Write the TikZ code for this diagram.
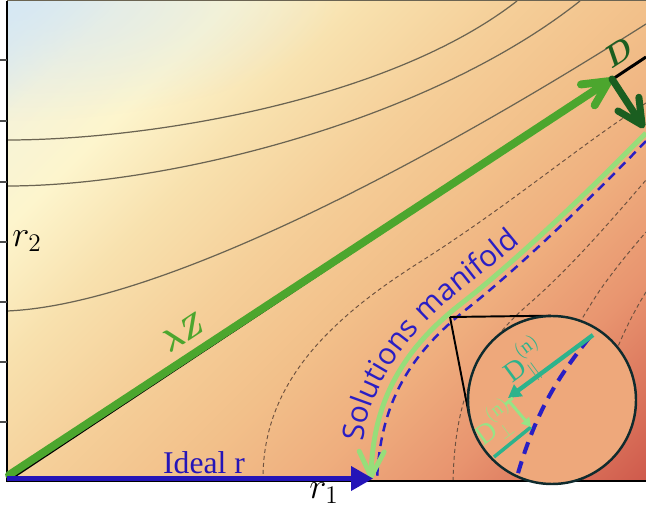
\documentclass[tikz,border=0pt]{standalone}
\usepackage{fontspec}
\setmainfont{Liberation Serif}
\newfontfamily\labelsans{Open Sans}
\usepackage{amsmath}
\usepackage{tikz}
\usetikzlibrary{arrows.meta, decorations.text, calc, fadings}

\definecolor{hmA}{HTML}{D6E8F4}
\definecolor{hmB}{HTML}{F6F3D8}
\definecolor{hmC}{HTML}{FDF5CD}
\definecolor{hmD}{HTML}{F8E1AE}
\definecolor{hmE}{HTML}{F5CF99}
\definecolor{hmF}{HTML}{F2C08A}
\definecolor{hmG}{HTML}{EFAE7E}
\definecolor{hmH}{HTML}{E8946F}
\definecolor{hmI}{HTML}{DB755C}
\definecolor{hmJ}{HTML}{CF5A4C}
\definecolor{lensfill}{HTML}{EEA87B}
\definecolor{contourgray}{HTML}{6B6452}
\definecolor{contourbrown}{HTML}{6E5240}
\definecolor{lzgreen}{HTML}{4CA62E}
\definecolor{dgreen}{HTML}{1B5E20}
\definecolor{mangreen}{HTML}{97DD7A}
\definecolor{manblue}{HTML}{2A1EC4}
\definecolor{idealblue}{HTML}{2414B8}
\definecolor{tealD}{HTML}{2DB38C}
\definecolor{perpgreen}{HTML}{96E486}
\definecolor{lensedge}{HTML}{0F2B2E}

\pgfdeclarehorizontalshading{heatmap}{100bp}{color(0bp)=(hmA); color(14.6bp)=(hmA);
  color(21.7bp)=(hmB); color(28.8bp)=(hmC); color(37.3bp)=(hmD); color(46.5bp)=(hmE);
  color(55.6bp)=(hmF); color(64.1bp)=(hmG); color(72.6bp)=(hmH); color(79.7bp)=(hmI);
  color(85.4bp)=(hmJ); color(100bp)=(hmJ)}
\tikzfading[name=topglow, inner color=transparent!20, outer color=transparent!100]

\tikzset{
  contour/.style={draw=contourgray, line width=0.7pt},
  dcontour/.style={draw=contourbrown, line width=0.55pt, dash pattern=on 2.3pt off 1.7pt},
  barb/.style={-{Straight Barb[length=5mm, width=5mm, round]}},
  lzarrow/.style={barb, draw=lzgreen, line width=4.5pt, line cap=round},
  darrow/.style={barb, draw=dgreen, line width=4pt, line cap=round},
  manifold/.style={barb, draw=mangreen, line width=2.8pt},
  mandash/.style={draw=manblue, line width=1.4pt, dash pattern=on 5pt off 3.5pt},
  idealarrow/.style={-{Triangle[length=4.4mm, width=4.8mm]}, draw=idealblue, fill=idealblue, line width=2.3pt},
  axisline/.style={draw=black, line width=0.9pt},
  tick/.style={draw=black!70, line width=0.6pt},
  biglabel/.style={font=\fontsize{18}{20}\selectfont},
  axislabel/.style={font=\fontsize{21}{24}\selectfont},
  dlabel/.style={rotate=36.5, font=\fontsize{16}{18}\selectfont},
}

\begin{document}
\begin{tikzpicture}[x=0.02cm, y=-0.02cm]
  \useasboundingbox (0,0) rectangle (646,513);
  % loss landscape
  \shade[shading=heatmap, shading angle=-45] (7,1) rectangle (646,481);
  \begin{scope}
    \clip (7,1) rectangle (646,481);
    \fill[hmA, path fading=topglow] (7,1) ellipse (330 and 120);
  \end{scope}

  % solid level sets
  \draw[contour] (7,140) .. controls (150,140) and (390,100) .. (517,1);
  \draw[contour] (7,186) .. controls (170,186) and (430,120) .. (580,1);
  \draw[contour] (7,311) .. controls (150,305) and (400,180) .. (646,24);
  % dashed level sets
  \draw[dcontour] (263,481) .. controls (262,390) and (320,325) .. (420,262)
                  .. controls (510,205) and (580,145) .. (646,103);
  \draw[dcontour] (453,481) .. controls (455,400) and (475,350) .. (530,303)
                  .. controls (570,268) and (610,222) .. (646,180);
  \draw[dcontour] (522,481) .. controls (530,420) and (560,350) .. (600,290)
                  .. controls (620,262) and (635,245) .. (646,232);
  \draw[dcontour] (583,481) .. controls (590,420) and (610,350) .. (646,292);

  % frame and ticks
  \draw[contourgray, line width=0.8pt] (7,0.8) -- (646,0.8);
  \draw[axisline] (7,1) -- (7,481) -- (646,481);
  \foreach \ty in {60,121,182,242,302,362,422}
    \draw[tick] (0,\ty) -- (7,\ty);

  % lambda Z and the step D
  \coordinate (O) at (7,481);
  \coordinate (edgeR) at (646,57);
  \coordinate (lzStart) at (9,475);
  \coordinate (lzTip) at (612,79);
  \coordinate (dTip) at (644,128);
  \draw[black, line width=1.7pt] (O) -- (edgeR);
  \draw[lzarrow] (lzStart) -- (lzTip);
  \draw[darrow] (lzTip) -- (dTip);
  \node[rotate=33.4, text=lzgreen, font=\fontsize{17}{18}\selectfont] (lzLbl) at (183,332) {$\boldsymbol{\lambda Z}$};
  \node[rotate=33, text=dgreen, font=\fontsize{16}{18}\selectfont] (dLbl) at (618,53) {$\boldsymbol{D}$};

  % solutions manifold
  \draw[mandash] (646,141) .. controls (603,186) and (526,262) .. (468,308)
                 .. controls (410,354) and (380,402) .. (377,481);
  \draw[manifold] (646,133) .. controls (600,180) and (520,258) .. (462,303)
                  .. controls (404,348) and (373,400) .. (371,479);
  \path[decorate, decoration={text along path, text align=left,
      text={|\labelsans\fontsize{17}{20}\selectfont\color{manblue}|Solutions manifold}}]
    (364,442) .. controls (366,400) and (395,350) .. (440,308)
    .. controls (470,282) and (505,258) .. (545,222);

  % ideal point
  \coordinate (idealStart) at (7,478.5);
  \coordinate (idealTip) at (373,478.5);
  \draw[idealarrow] (idealStart) -- (idealTip);
  \node[biglabel, text=idealblue] (idealLbl) at (204,463) {Ideal r};

  % axis names
  \node[axislabel] (r1Lbl) at (324,493) {$r_1$};
  \node[axislabel] (r2Lbl) at (27,241) {$r_2$};

  % magnified view
  \coordinate (src) at (450,317);
  \node[circle, minimum size=3.36cm, inner sep=0pt] (lens) at (552,400) {};
  \draw[black, line width=1.1pt] (src) -- (tangent cs:node=lens, point={(src)}, solution=1);
  \draw[black, line width=1.1pt] (src) -- (tangent cs:node=lens, point={(src)}, solution=2);
  \fill[lensfill] (lens.center) circle (84);
  \begin{scope}
    \clip (lens.center) circle (84);
    \draw[manblue, line width=2.3pt, dash pattern=on 7pt off 4.5pt] (589,338) .. controls (560,375) and (535,410) .. (515,484);
  \end{scope}
  \coordinate (dparStart) at (593,335);
  \coordinate (dparTip) at (508,398);
  \coordinate (dperpStart) at (508,400);
  \coordinate (dperpTip) at (531,427);
  \coordinate (tanEnd) at (494,457);
  \draw[tealD, line width=2.5pt, -{Triangle[length=2.6mm, width=2.8mm]}] (dparStart) -- (dparTip);
  \draw[tealD, line width=2pt] (dperpTip) -- (tanEnd);
  \draw[perpgreen, line width=1.7pt, {Bar[width=2mm]}-{Triangle[length=1.8mm, width=2mm]}] (dperpStart) -- (dperpTip);
  \node[dlabel, text=tealD] (dparLbl) at (526,363) {$\mathrm{D}_{\parallel}^{(\mathrm{n})}$};
  \node[dlabel, text=perpgreen] (dperpLbl) at (495,424) {$\mathrm{D}_{\perp}^{(\mathrm{n})}$};
  \draw[lensedge, line width=1.4pt] (lens.center) circle (84);
\end{tikzpicture}
\end{document}
